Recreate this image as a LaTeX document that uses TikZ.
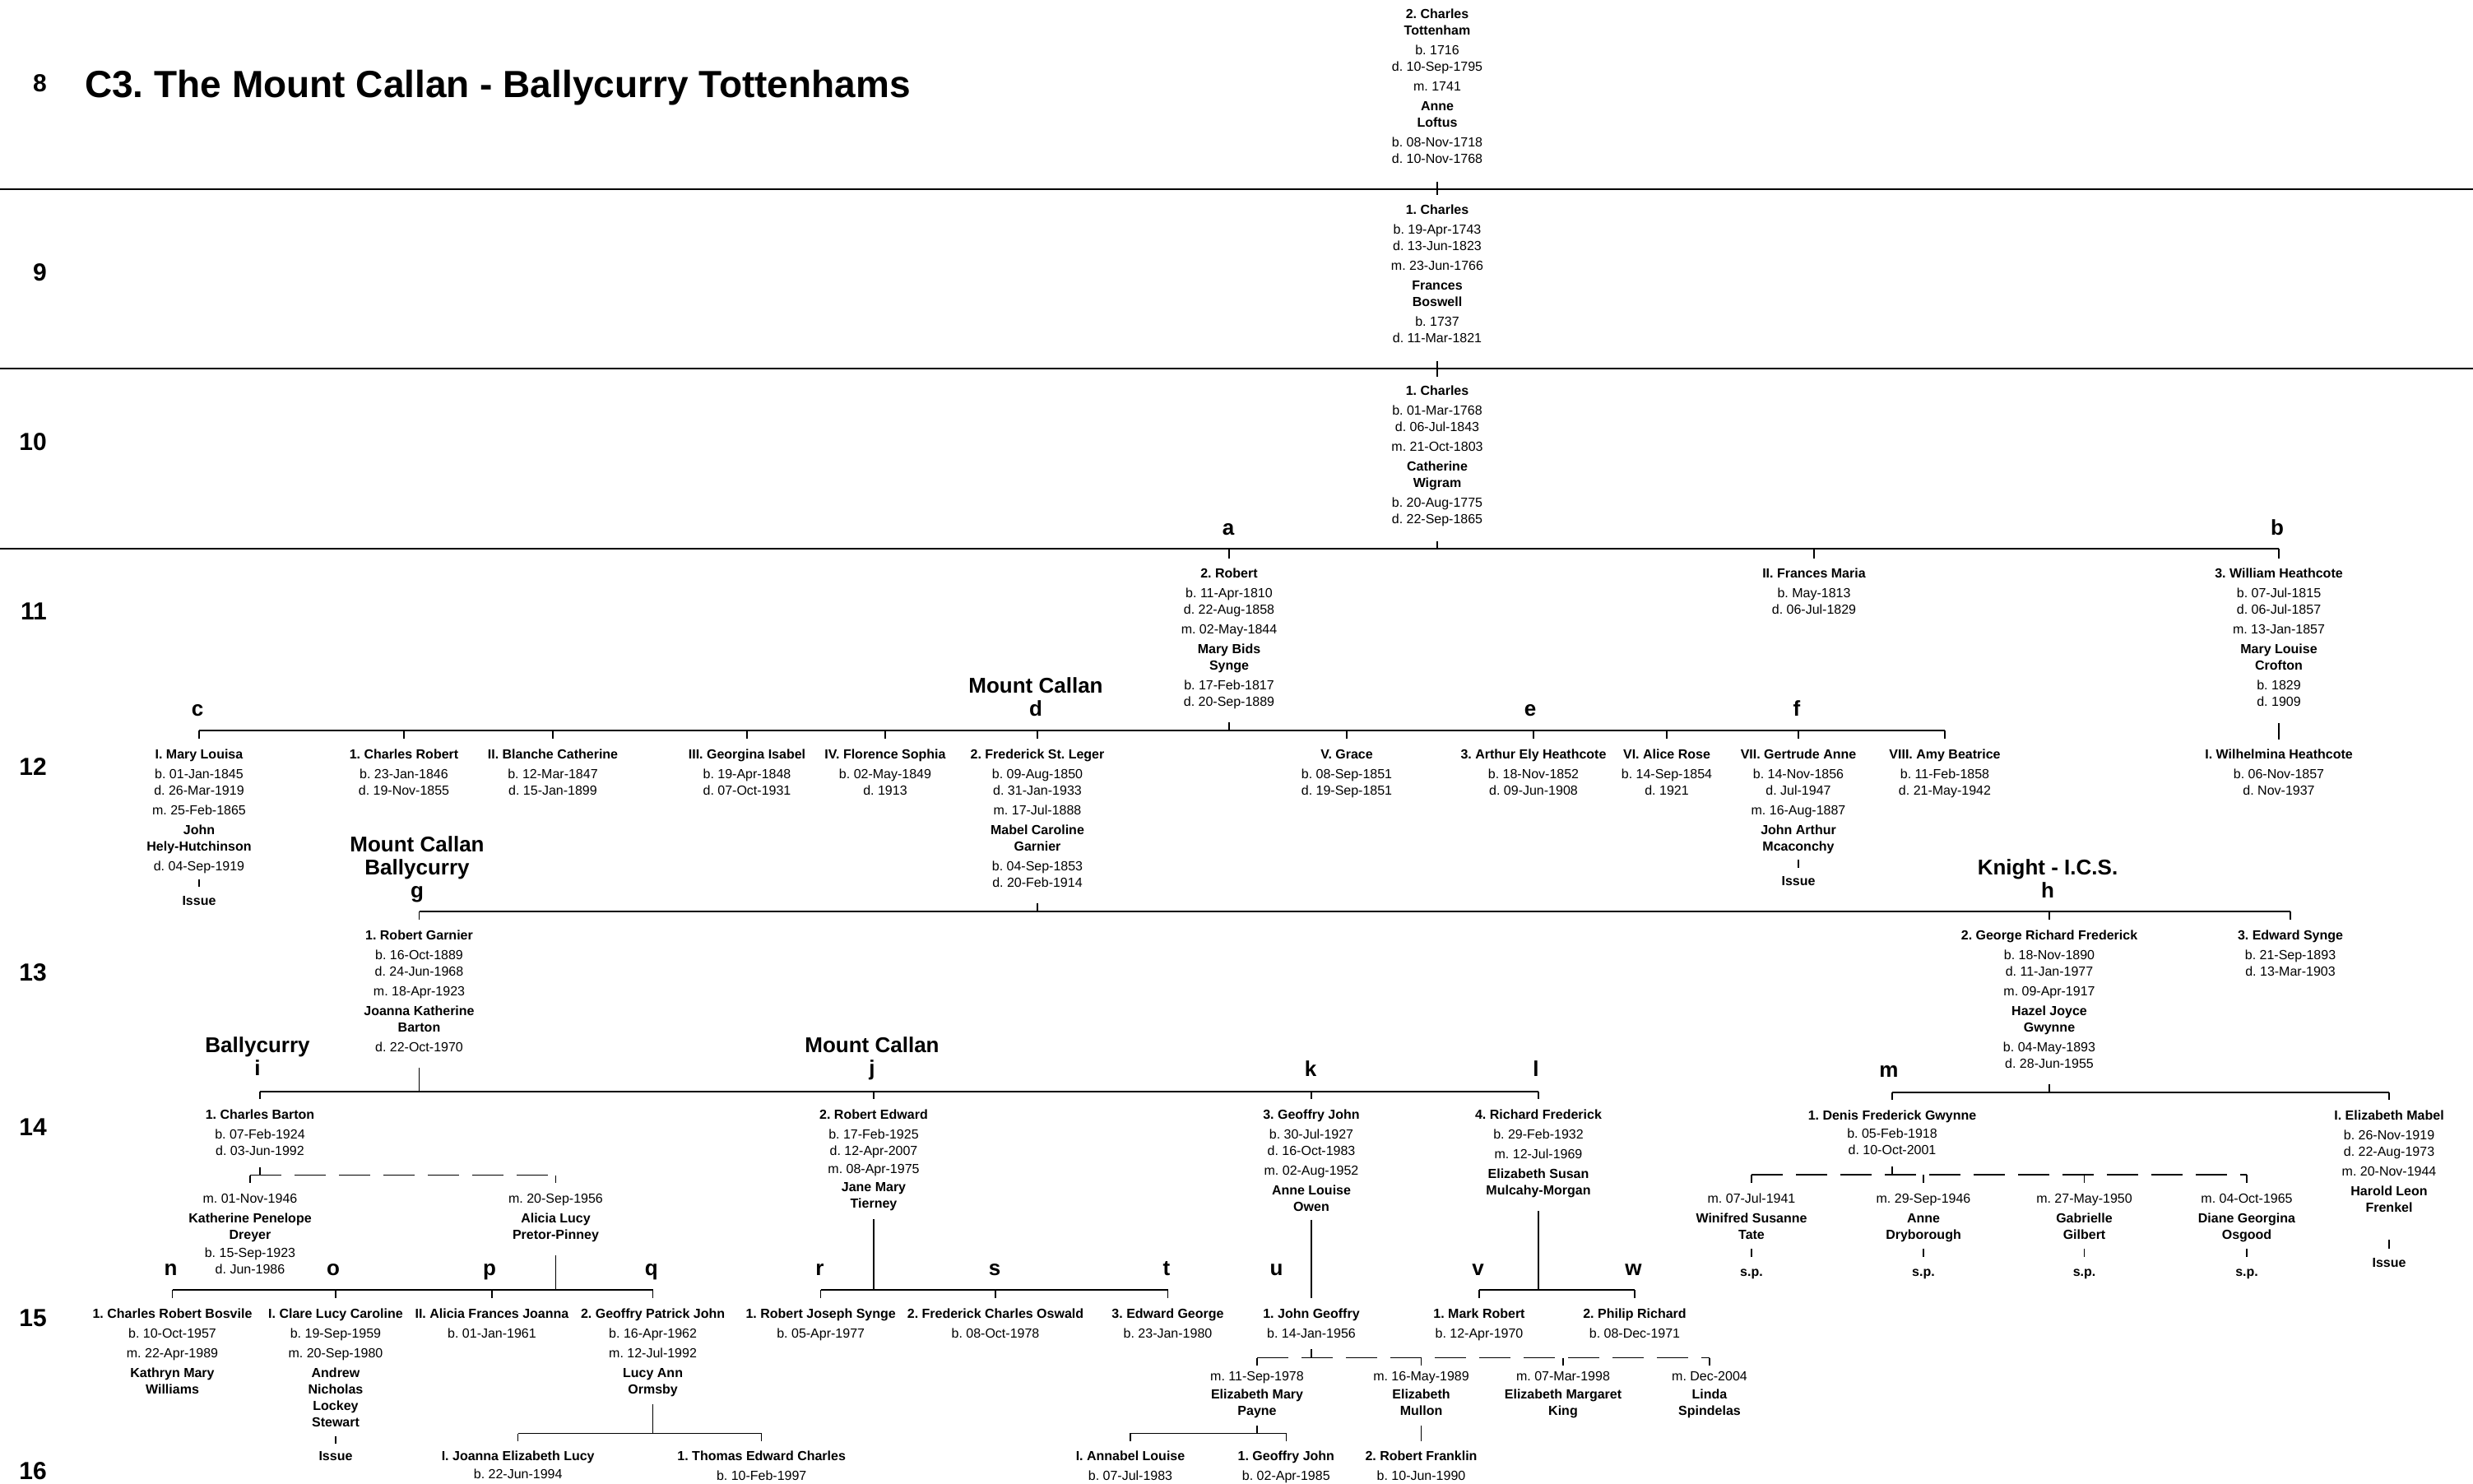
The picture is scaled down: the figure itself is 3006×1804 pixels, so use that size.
\documentclass[tikz,border=0pt]{standalone}
\usepackage{fontspec}
\setmainfont{Liberation Sans}
\frenchspacing
\newcommand\blk[1]{\rule{0pt}{12pt}#1\rule[-4pt]{0pt}{4pt}}
\newcommand\ltop{\rule{0pt}{20pt}}
\tikzset{
  pp/.style={anchor=north, inner sep=0pt, align=center, font=\fontsize{16}{20}\selectfont},
  lb/.style={anchor=base, inner sep=0pt, font=\fontsize{26}{28}\selectfont\bfseries},
  lbm/.style={anchor=north, inner sep=0pt, align=center, font=\fontsize{26}{28}\selectfont\bfseries},
  gen/.style={anchor=base east, inner sep=0pt, font=\fontsize{30}{32}\selectfont\bfseries},
  ln/.style={line width=1.2pt},
  dsh/.style={line width=1.2pt, dash pattern=on 38pt off 16pt},
}
\begin{document}
\begin{tikzpicture}[x=1pt,y=-1pt]
\path[use as bounding box, fill=white] (0,0) rectangle (3006,1804);
% separators
\draw[ln] (0,230) -- (3006,230);
\draw[ln] (0,448) -- (3006,448);
\draw[ln] (0,667) -- (1494,667);
% generation numbers
\node[gen] (n8) at (57,111.6) {8};
\node[gen] (n9) at (57,341) {9};
\node[gen] (n10) at (57,547) {10};
\node[gen] (n11) at (57,753) {11};
\node[gen] (n12) at (57,942) {12};
\node[gen] (n13) at (57,1192) {13};
\node[gen] (n14) at (57,1380) {14};
\node[gen] (n15) at (57,1612) {15};
\node[gen] (n16) at (57,1798) {16};
\node[anchor=base west, inner sep=0pt, font=\fontsize{46}{50}\selectfont\bfseries] (title) at (103,118) {C3. The Mount Callan - Ballycurry Tottenhams};
% branch labels
\node[lb] (la) at (1493,650) {a};
\node[lb] (lbb) at (2768,650) {b};
\node[lb] (lc) at (240,870) {c};
\node[lbm] (ld) at (1259,822) {\ltop Mount Callan\\d};
\node[lb] (le) at (1860,870) {e};
\node[lb] (lf) at (2184,870) {f};
\node[lbm] (lg) at (507,1015) {\ltop Mount Callan\\Ballycurry\\g};
\node[lbm] (lh) at (2489,1043) {\ltop Knight - I.C.S.\\h};
\node[lbm] (li) at (313,1259) {\ltop Ballycurry\\i};
\node[lbm] (lj) at (1060,1259) {\ltop Mount Callan\\j};
\node[lb] (lk) at (1593,1308) {k};
\node[lb] (ll) at (1867,1308) {l};
\node[lb] (lm) at (2296,1309) {m};
\node[lb] (lnn) at (207.5,1550) {n};
\node[lb] (lo) at (405,1550) {o};
\node[lb] (lp) at (595,1550) {p};
\node[lb] (lq) at (791.7,1550) {q};
\node[lb] (lr) at (996.5,1550) {r};
\node[lb] (ls) at (1209,1550) {s};
\node[lb] (lt) at (1418,1550) {t};
\node[lb] (lu) at (1551.5,1550) {u};
\node[lb] (lv) at (1796.5,1550) {v};
\node[lb] (lw) at (1985.5,1550) {w};
% gen 8-10
\node[pp] (g8) at (1747,10.5) {\blk{\textbf{2. Charles}\\\textbf{Tottenham}\\[4pt]b. 1716\\d. 10-Sep-1795\\[4pt]m. 1741\\[4pt]\textbf{Anne}\\\textbf{Loftus}\\[4pt]b. 08-Nov-1718\\d. 10-Nov-1768}};
\node[pp] (g9) at (1747,248.5) {\blk{\textbf{1. Charles}\\[4pt]b. 19-Apr-1743\\d. 13-Jun-1823\\[4pt]m. 23-Jun-1766\\[4pt]\textbf{Frances}\\\textbf{Boswell}\\[4pt]b. 1737\\d. 11-Mar-1821}};
\node[pp] (g10) at (1747,468) {\blk{\textbf{1. Charles}\\[4pt]b. 01-Mar-1768\\d. 06-Jul-1843\\[4pt]m. 21-Oct-1803\\[4pt]\textbf{Catherine}\\\textbf{Wigram}\\[4pt]b. 20-Aug-1775\\d. 22-Sep-1865}};
% gen 11
\node[pp] (robert) at (1494,690) {\blk{\textbf{2. Robert}\\[4pt]b. 11-Apr-1810\\d. 22-Aug-1858\\[4pt]m. 02-May-1844\\[4pt]\textbf{Mary Bids}\\\textbf{Synge}\\[4pt]b. 17-Feb-1817\\d. 20-Sep-1889}};
\node[pp] (frances) at (2205,690) {\blk{\textbf{II. Frances Maria}\\[4pt]b. May-1813\\d. 06-Jul-1829}};
\node[pp] (william) at (2770,690) {\blk{\textbf{3. William Heathcote}\\[4pt]b. 07-Jul-1815\\d. 06-Jul-1857\\[4pt]m. 13-Jan-1857\\[4pt]\textbf{Mary Louise}\\\textbf{Crofton}\\[4pt]b. 1829\\d. 1909}};
% gen 12
\node[pp] (maryl) at (242,910) {\blk{\textbf{I. Mary Louisa}\\[4pt]b. 01-Jan-1845\\d. 26-Mar-1919\\[4pt]m. 25-Feb-1865\\[4pt]\textbf{John}\\\textbf{Hely-Hutchinson}\\[4pt]d. 04-Sep-1919}};
\node[pp] (issueML) at (242,1088) {\blk{\textbf{Issue}}};
\node[pp] (charlesr) at (491,910) {\blk{\textbf{1. Charles Robert}\\[4pt]b. 23-Jan-1846\\d. 19-Nov-1855}};
\node[pp] (blanche) at (672,910) {\blk{\textbf{II. Blanche Catherine}\\[4pt]b. 12-Mar-1847\\d. 15-Jan-1899}};
\node[pp] (georgina) at (908,910) {\blk{\textbf{III. Georgina Isabel}\\[4pt]b. 19-Apr-1848\\d. 07-Oct-1931}};
\node[pp] (florence) at (1076,910) {\blk{\textbf{IV. Florence Sophia}\\[4pt]b. 02-May-1849\\d. 1913}};
\node[pp] (frederick) at (1261,910) {\blk{\textbf{2. Frederick St. Leger}\\[4pt]b. 09-Aug-1850\\d. 31-Jan-1933\\[4pt]m. 17-Jul-1888\\[4pt]\textbf{Mabel Caroline}\\\textbf{Garnier}\\[4pt]b. 04-Sep-1853\\d. 20-Feb-1914}};
\node[pp] (grace) at (1637,910) {\blk{\textbf{V. Grace}\\[4pt]b. 08-Sep-1851\\d. 19-Sep-1851}};
\node[pp] (arthur) at (1864,910) {\blk{\textbf{3. Arthur Ely Heathcote}\\[4pt]b. 18-Nov-1852\\d. 09-Jun-1908}};
\node[pp] (alice) at (2026,910) {\blk{\textbf{VI. Alice Rose}\\[4pt]b. 14-Sep-1854\\d. 1921}};
\node[pp] (gertrude) at (2186,910) {\blk{\textbf{VII. Gertrude Anne}\\[4pt]b. 14-Nov-1856\\d. Jul-1947\\[4pt]m. 16-Aug-1887\\[4pt]\textbf{John Arthur}\\\textbf{Mcaconchy}}};
\node[pp] (issueGA) at (2186,1064) {\blk{\textbf{Issue}}};
\node[pp] (amy) at (2364,910) {\blk{\textbf{VIII. Amy Beatrice}\\[4pt]b. 11-Feb-1858\\d. 21-May-1942}};
\node[pp] (wilhelmina) at (2770,910) {\blk{\textbf{I. Wilhelmina Heathcote}\\[4pt]b. 06-Nov-1857\\d. Nov-1937}};
% gen 13
\node[pp] (robertg) at (509.5,1130) {\blk{\textbf{1. Robert Garnier}\\[4pt]b. 16-Oct-1889\\d. 24-Jun-1968\\[4pt]m. 18-Apr-1923\\[4pt]\textbf{Joanna Katherine}\\\textbf{Barton}\\[4pt]d. 22-Oct-1970}};
\node[pp] (george) at (2491,1130) {\blk{\textbf{2. George Richard Frederick}\\[4pt]b. 18-Nov-1890\\d. 11-Jan-1977\\[4pt]m. 09-Apr-1917\\[4pt]\textbf{Hazel Joyce}\\\textbf{Gwynne}\\[4pt]b. 04-May-1893\\d. 28-Jun-1955}};
\node[pp] (edward) at (2784,1130) {\blk{\textbf{3. Edward Synge}\\[4pt]b. 21-Sep-1893\\d. 13-Mar-1903}};
% gen 14
\node[pp] (charlesb) at (316,1348) {\blk{\textbf{1. Charles Barton}\\[4pt]b. 07-Feb-1924\\d. 03-Jun-1992}};
\node[pp] (spKP) at (304,1450) {\blk{m. 01-Nov-1946\\[4pt]\textbf{Katherine Penelope}\\\textbf{Dreyer}\\[2pt]b. 15-Sep-1923\\d. Jun-1986}};
\node[pp] (spAL) at (675.5,1450) {\blk{m. 20-Sep-1956\\[4pt]\textbf{Alicia Lucy}\\\textbf{Pretor-Pinney}}};
\node[pp] (robertE) at (1062,1348) {\blk{\textbf{2. Robert Edward}\\[4pt]b. 17-Feb-1925\\d. 12-Apr-2007\\[2pt]m. 08-Apr-1975\\[2pt]\textbf{Jane Mary}\\\textbf{Tierney}}};
\node[pp] (geoffryJ) at (1594,1348) {\blk{\textbf{3. Geoffry John}\\[4pt]b. 30-Jul-1927\\d. 16-Oct-1983\\[4pt]m. 02-Aug-1952\\[4pt]\textbf{Anne Louise}\\\textbf{Owen}}};
\node[pp] (richard) at (1870,1348) {\blk{\textbf{4. Richard Frederick}\\[4pt]b. 29-Feb-1932\\[4pt]m. 12-Jul-1969\\[4pt]\textbf{Elizabeth Susan}\\\textbf{Mulcahy-Morgan}}};
\node[pp] (denis) at (2300,1349) {\blk{\textbf{1. Denis Frederick Gwynne}\\[2pt]b. 05-Feb-1918\\d. 10-Oct-2001}};
\node[pp] (spWT) at (2129,1450) {\blk{m. 07-Jul-1941\\[4pt]\textbf{Winifred Susanne}\\\textbf{Tate}}};
\node[pp] (spAD) at (2338,1450) {\blk{m. 29-Sep-1946\\[4pt]\textbf{Anne}\\\textbf{Dryborough}}};
\node[pp] (spGG) at (2533.5,1450) {\blk{m. 27-May-1950\\[4pt]\textbf{Gabrielle}\\\textbf{Gilbert}}};
\node[pp] (spDO) at (2731,1450) {\blk{m. 04-Oct-1965\\[4pt]\textbf{Diane Georgina}\\\textbf{Osgood}}};
\node[pp] (spa) at (2129,1539) {\blk{\textbf{s.p.}}};
\node[pp] (spb) at (2338,1539) {\blk{\textbf{s.p.}}};
\node[pp] (spc) at (2533.5,1539) {\blk{\textbf{s.p.}}};
\node[pp] (spd) at (2731,1539) {\blk{\textbf{s.p.}}};
\node[pp] (elizabethM) at (2904,1349) {\blk{\textbf{I. Elizabeth Mabel}\\[4pt]b. 26-Nov-1919\\d. 22-Aug-1973\\[4pt]m. 20-Nov-1944\\[4pt]\textbf{Harold Leon}\\\textbf{Frenkel}}};
\node[pp] (issueEM) at (2904,1528) {\blk{\textbf{Issue}}};
% gen 15
\node[pp] (charlesRB) at (209.5,1590) {\blk{\textbf{1. Charles Robert Bosvile}\\[4pt]b. 10-Oct-1957\\[4pt]m. 22-Apr-1989\\[4pt]\textbf{Kathryn Mary}\\\textbf{Williams}}};
\node[pp] (clare) at (408,1590) {\blk{\textbf{I. Clare Lucy Caroline}\\[4pt]b. 19-Sep-1959\\[4pt]m. 20-Sep-1980\\[4pt]\textbf{Andrew}\\\textbf{Nicholas}\\\textbf{Lockey}\\\textbf{Stewart}}};
\node[pp] (issueCL) at (408,1763) {\blk{\textbf{Issue}}};
\node[pp] (aliciaF) at (598,1590) {\blk{\textbf{II. Alicia Frances Joanna}\\[4pt]b. 01-Jan-1961}};
\node[pp] (geoffryP) at (793.6,1590) {\blk{\textbf{2. Geoffry Patrick John}\\[4pt]b. 16-Apr-1962\\[4pt]m. 12-Jul-1992\\[4pt]\textbf{Lucy Ann}\\\textbf{Ormsby}}};
\node[pp] (robertJ) at (997.7,1590) {\blk{\textbf{1. Robert Joseph Synge}\\[4pt]b. 05-Apr-1977}};
\node[pp] (frederickC) at (1210,1590) {\blk{\textbf{2. Frederick Charles Oswald}\\[4pt]b. 08-Oct-1978}};
\node[pp] (edwardG) at (1419.5,1590) {\blk{\textbf{3. Edward George}\\[4pt]b. 23-Jan-1980}};
\node[pp] (johnG) at (1594,1590) {\blk{\textbf{1. John Geoffry}\\[4pt]b. 14-Jan-1956}};
\node[pp] (markR) at (1798,1590) {\blk{\textbf{1. Mark Robert}\\[4pt]b. 12-Apr-1970}};
\node[pp] (philipR) at (1987,1590) {\blk{\textbf{2. Philip Richard}\\[4pt]b. 08-Dec-1971}};
\node[pp] (spEP) at (1528,1666) {\blk{m. 11-Sep-1978\\[2pt]\textbf{Elizabeth Mary}\\\textbf{Payne}}};
\node[pp] (spEM) at (1727.5,1666) {\blk{m. 16-May-1989\\[2pt]\textbf{Elizabeth}\\\textbf{Mullon}}};
\node[pp] (spEK) at (1900,1666) {\blk{m. 07-Mar-1998\\[2pt]\textbf{Elizabeth Margaret}\\\textbf{King}}};
\node[pp] (spLS) at (2078,1666) {\blk{m. Dec-2004\\[2pt]\textbf{Linda}\\\textbf{Spindelas}}};
% gen 16
\node[pp] (joannaE) at (629.7,1763) {\blk{\textbf{I. Joanna Elizabeth Lucy}\\[2pt]b. 22-Jun-1994}};
\node[pp] (thomasE) at (925.7,1763) {\blk{\textbf{1. Thomas Edward Charles}\\[4pt]b. 10-Feb-1997}};
\node[pp] (annabel) at (1374,1763) {\blk{\textbf{I. Annabel Louise}\\[4pt]b. 07-Jul-1983}};
\node[pp] (geoffryJ2) at (1563.3,1763) {\blk{\textbf{1. Geoffry John}\\[4pt]b. 02-Apr-1985}};
\node[pp] (robertF) at (1727.5,1763) {\blk{\textbf{2. Robert Franklin}\\[4pt]b. 10-Jun-1990}};
% ---------- connectors ----------
\draw[ln,shorten <=18pt,shorten >=12pt] (g8.south) -- (g9.north);
\draw[ln,shorten <=18pt,shorten >=10pt] (g9.south) -- (g10.north);
\coordinate (y11) at (1747,667);
\draw[ln,shorten <=18pt] (g10.south) -- (y11);
\draw[ln] (robert.north |- y11) -- (william.north |- y11);
\foreach \ch in {robert,frances,william} \draw[ln,shorten >=11pt] (\ch.north |- y11) -- (\ch.north);
\coordinate (y12) at (1494,888);
\draw[ln,shorten <=16pt] (robert.south) -- (y12);
\draw[ln] (maryl.north |- y12) -- (amy.north |- y12);
\foreach \ch in {maryl,charlesr,blanche,georgina,florence,frederick,grace,arthur,alice,gertrude,amy} \draw[ln,shorten >=12pt] (\ch.north |- y12) -- (\ch.north);
\draw[ln,shorten <=17pt,shorten >=11pt] (william.south) -- (wilhelmina.north);
\draw[ln,shorten <=7pt,shorten >=10pt] (maryl.south) -- (issueML.north);
\draw[ln,shorten <=7pt,shorten >=9pt] (gertrude.south) -- (issueGA.north);
\coordinate (y13) at (1261,1108);
\draw[ln,shorten <=16pt] (frederick.south) -- (y13);
\draw[ln] (robertg.north |- y13) -- (edward.north |- y13);
\foreach \ch in {robertg,george,edward} \draw[ln,shorten >=12pt] (\ch.north |- y13) -- (\ch.north);
\coordinate (y14a) at (509.5,1327);
\draw[ln,shorten <=16pt] (robertg.south) -- (y14a);
\draw[ln] (charlesb.north |- y14a) -- (richard.north |- y14a);
\foreach \ch in {charlesb,robertE,geoffryJ,richard} \draw[ln,shorten >=12pt] (\ch.north |- y14a) -- (\ch.north);
\coordinate (y14b) at (2491,1328);
\draw[ln,shorten <=16pt] (george.south) -- (y14b);
\draw[ln] (denis.north |- y14b) -- (elizabethM.north |- y14b);
\foreach \ch in {denis,elizabethM} \draw[ln,shorten >=12pt] (\ch.north |- y14b) -- (\ch.north);
% Charles Barton marriages
\coordinate (mCB) at (316,1428.7);
\draw[ln,shorten <=11pt] (charlesb.south) -- (mCB);
\draw[dsh] (spKP.north |- mCB) -- (spAL.north |- mCB);
\foreach \ch in {spKP,spAL} \draw[ln,shorten >=12pt] (\ch.north |- mCB) -- (\ch.north);
\coordinate (y15a) at (675.5,1568);
\draw[ln,shorten <=16pt] (spAL.south) -- (y15a);
\draw[ln] (charlesRB.north |- y15a) -- (geoffryP.north |- y15a);
\foreach \ch in {charlesRB,clare,aliciaF,geoffryP} \draw[ln,shorten >=12pt] (\ch.north |- y15a) -- (\ch.north);
\draw[ln,shorten <=7.5pt,shorten >=8pt] (clare.south) -- (issueCL.north);
\coordinate (y16a) at (793.6,1742.7);
\draw[ln,shorten <=9pt] (geoffryP.south) -- (y16a);
\draw[ln] (joannaE.north |- y16a) -- (thomasE.north |- y16a);
\foreach \ch in {joannaE,thomasE} \draw[ln,shorten >=10.6pt] (\ch.north |- y16a) -- (\ch.north);
% Robert Edward
\coordinate (y15b) at (1062,1568);
\draw[ln,shorten <=10pt] (robertE.south) -- (y15b);
\draw[ln] (robertJ.north |- y15b) -- (edwardG.north |- y15b);
\foreach \ch in {robertJ,frederickC,edwardG} \draw[ln,shorten >=12pt] (\ch.north |- y15b) -- (\ch.north);
% Geoffry John
\draw[ln,shorten <=6.5pt,shorten >=12pt] (geoffryJ.south) -- (johnG.north);
\coordinate (mJG) at (1594,1650.7);
\draw[ln,shorten <=10pt] (johnG.south) -- (mJG);
\draw[dsh] (spEP.north |- mJG) -- (spLS.north |- mJG);
\foreach \ch in {spEP,spEM,spEK,spLS} \draw[ln,shorten >=6pt] (\ch.north |- mJG) -- (\ch.north);
\coordinate (y16b) at (1528,1742.3);
\draw[ln,shorten <=9pt] (spEP.south) -- (y16b);
\draw[ln] (annabel.north |- y16b) -- (geoffryJ2.north |- y16b);
\foreach \ch in {annabel,geoffryJ2} \draw[ln,shorten >=10.6pt] (\ch.north |- y16b) -- (\ch.north);
\draw[ln,shorten <=9pt,shorten >=10.6pt] (spEM.south) -- (robertF.north);
% Richard Frederick
\coordinate (y15c) at (1870,1568);
\draw[ln,shorten <=16pt] (richard.south) -- (y15c);
\draw[ln] (markR.north |- y15c) -- (philipR.north |- y15c);
\foreach \ch in {markR,philipR} \draw[ln,shorten >=12pt] (\ch.north |- y15c) -- (\ch.north);
% Denis marriages
\coordinate (mDF) at (2300,1428);
\draw[ln,shorten <=11pt] (denis.south) -- (mDF);
\draw[dsh] (spWT.north |- mDF) -- (spDO.north |- mDF);
\foreach \ch in {spWT,spAD,spGG,spDO} \draw[ln,shorten >=12pt] (\ch.north |- mDF) -- (\ch.north);
\foreach \pa/\pb in {spWT/spa,spAD/spb,spGG/spc,spDO/spd} \draw[ln,shorten <=8pt,shorten >=11pt] (\pa.south) -- (\pb.north);
\draw[ln,shorten <=30pt,shorten >=10pt] (elizabethM.south) -- (issueEM.north);
\end{tikzpicture}
\end{document}
